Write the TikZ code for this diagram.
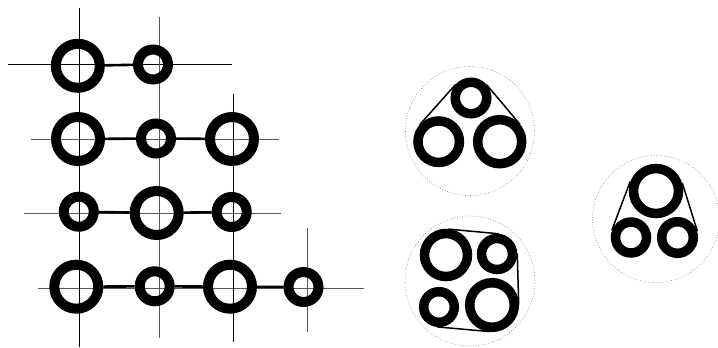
\documentclass[tikz,border=0pt]{standalone}
\usetikzlibrary{calc}
\tikzset{
  ring/.style={circle,draw=black,line width=10pt,inner sep=0pt,minimum size=#1},
  bigring/.style={ring=44pt},
  smallring/.style={ring=30pt},
  cring/.style={circle,draw=black,line width=9.5pt,inner sep=0pt,minimum size=#1},
  gridline/.style={line width=0.9pt,draw=black},
  greyline/.style={line width=0.9pt,draw=black!65},
  link/.style={line width=2.6pt},
  belt/.style={line width=1.5pt},
  hull/.style={dotted,draw=black!55,line width=0.6pt}
}
\newcommand\beltline[5]{%
  \draw[belt] let \p1=(#1.center), \p2=(#3.center),
    \n1={atan2(\y2-\y1,\x2-\x1)}, \n2={veclen(\x2-\x1,\y2-\y1)},
    \n3={\n1+(#5)*acos((#2-#4)/\n2)} in
    ($(#1.center)+(\n3:#2pt)$) -- ($(#3.center)+(\n3:#4pt)$);}
\begin{document}
\begin{tikzpicture}[x=1pt,y=-1pt]
\useasboundingbox (0,0) rectangle (718,348);
% grid
\coordinate (h1a) at (8,64.5);   \coordinate (h1b) at (232,64.5);
\coordinate (h2a) at (31,139);   \coordinate (h2b) at (279,139);
\coordinate (h3a) at (24,213);   \coordinate (h3b) at (281,213);
\coordinate (h4a) at (38,288.5); \coordinate (h4b) at (364,288.5);
\coordinate (v1a) at (79.3,8);   \coordinate (v1b) at (79.3,347);
\coordinate (v2a) at (159.5,17); \coordinate (v2b) at (159.5,338);
\coordinate (v3a) at (233.3,94); \coordinate (v3b) at (233.3,342);
\coordinate (v4a) at (307,228);  \coordinate (v4b) at (307,332);
\draw[gridline] (h1a) -- (h1b);
\draw[greyline] (h2a) -- (h2b);
\draw[greyline] (h3a) -- (h3b);
\draw[greyline] (h4a) -- (h4b);
\draw[gridline] (v1a) -- (v1b);
\draw[greyline] (v2a) -- (v2b);
\draw[gridline] (v3a) -- (v3b);
\draw[greyline] (v4a) -- (v4b);
% rings of the grid
\node[bigring]   (a1) at (77.8,65.8) {};
\node[smallring] (a2) at (153,64.5) {};
\node[bigring]   (b1) at (78,139) {};
\node[smallring] (b2) at (156,138.5) {};
\node[bigring]   (b3) at (232,139) {};
\node[smallring] (c1) at (78.8,211.7) {};
\node[bigring]   (c2) at (156.7,213) {};
\node[smallring] (c3) at (231.7,212) {};
\node[bigring]   (d1) at (76.3,286.7) {};
\node[smallring] (d2) at (154.7,286.3) {};
\node[bigring]   (d3) at (230,286.7) {};
\node[smallring] (d4) at (303.5,287) {};
\draw[link] (a1) -- (a2);
\draw[link] (b1) -- (b2); \draw[link] (b2) -- (b3);
\draw[link] (c1) -- (c2); \draw[link] (c2) -- (c3);
\draw[link] (d1) -- (d2); \draw[link] (d2) -- (d3); \draw[link] (d3) -- (d4);
% top cluster
\node[circle,hull,inner sep=0pt,minimum size=129pt] (hullT) at (470,131) {};
\node[cring=31.5pt] (t1) at (471,98) {};
\node[cring=41.5pt] (t2) at (438.7,141.7) {};
\node[cring=44pt]   (t3) at (499.7,141.7) {};
\beltline{t1}{20.5}{t2}{25.5}{-1}
\beltline{t1}{20.5}{t3}{26.7}{1}
% bottom cluster
\node[circle,hull,inner sep=0pt,minimum size=130pt] (hullB) at (470,281) {};
\node[cring=43pt] (q1) at (446,255) {};
\node[cring=31pt] (q2) at (497,254) {};
\node[cring=30.6pt] (q3) at (439,307) {};
\node[cring=44.6pt] (q4) at (492,305) {};
\beltline{q1}{26}{q2}{20.3}{1}
\beltline{q2}{20.3}{q4}{26.7}{1}
\beltline{q3}{20}{q4}{26.7}{-1}
% right cluster
\node[circle,hull,inner sep=0pt,minimum size=127pt] (hullR) at (656,219) {};
\node[cring=45pt] (r1) at (656,191) {};
\node[cring=31pt] (r2) at (631,237.5) {};
\node[cring=31.6pt] (r3) at (677.5,237.5) {};
\beltline{r1}{27.5}{r2}{20.5}{-1}
\beltline{r1}{27.5}{r3}{20.8}{1}
\end{tikzpicture}
\end{document}
